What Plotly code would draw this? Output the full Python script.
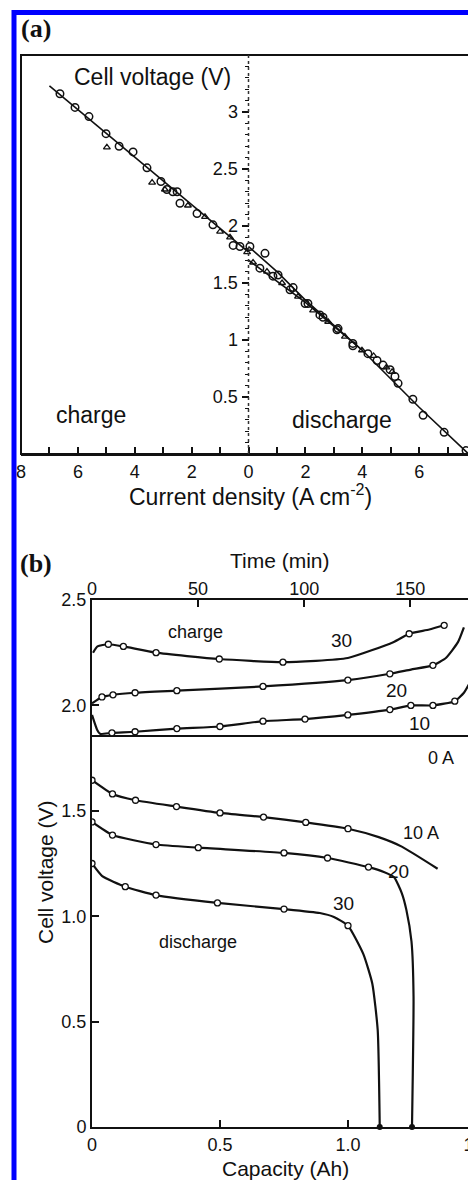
import plotly.graph_objects as go

# ---------------- Panel (a) data: cell voltage vs current density ----------------
a_charge_line_x = [-7.0, -3.5, 0.0]
a_charge_line_v = [3.23, 2.50, 1.77]
a_dis_upper_x = [0.0, 1.0, 2.0, 3.0, 4.0]
a_dis_upper_v = [1.82, 1.60, 1.35, 1.13, 0.91]
a_dis_lower_x = [0.0, 2.0, 4.0, 6.0, 7.7, 8.0]
a_dis_lower_v = [1.70, 1.33, 0.91, 0.41, 0.01, -0.06]

a_circ_x = [-6.63, -6.10, -5.61, -5.01, -4.55, -4.06, -3.57, -3.08, -2.87, -2.66, -2.51, -2.41,
            -1.81, -1.25, -0.54, -0.30, 0.05, 0.58, 1.04, 1.57, 2.09, 2.62, 3.15, 3.67,
            0.40, 0.86, 1.46, 1.99, 2.51, 3.11, 3.67, 4.20, 4.52, 4.73, 4.98, 5.15, 5.26,
            5.78, 6.14, 6.88, 7.65]
a_circ_v = [3.16, 3.04, 2.96, 2.81, 2.70, 2.65, 2.51, 2.39, 2.32, 2.30, 2.30, 2.20,
            2.11, 2.01, 1.83, 1.82, 1.82, 1.76, 1.57, 1.46, 1.32, 1.20, 1.10, 0.95,
            1.63, 1.56, 1.44, 1.32, 1.22, 1.09, 0.97, 0.88, 0.82, 0.78, 0.74, 0.68, 0.62,
            0.48, 0.34, 0.19, 0.03]
a_tri_x = [-4.98, -3.39, -2.94, -2.13, -1.53, -1.0, -0.65, -0.05, 0.16, 0.65, 1.18, 1.74,
           2.27, 2.8, 3.39, 3.99, 4.4, 4.85, 5.05]
a_tri_v = [2.69, 2.38, 2.32, 2.18, 2.08, 1.95, 1.90, 1.77, 1.68, 1.60, 1.50, 1.38,
           1.26, 1.16, 1.03, 0.91, 0.86, 0.76, 0.72]

a_xtick_vals = [-8, -6, -4, -2, 0, 2, 4, 6, 8]
a_xtick_text = ["8", "6", "4", "2", "0", "2", "4", "6", "8"]
a_ytick_vals = [0.5, 1.0, 1.5, 2.0, 2.5, 3.0]
a_ytick_text = ["0.5", "1", "1.5", "2", "2.5", "3"]

# ---------------- Panel (b) data: charge (vs time) and discharge (vs capacity) ----------------
b_ch30_t = [0.5, 2.6, 7.7, 14.8, 30.2, 60, 90, 120.6, 142, 149.5, 159, 166]
b_ch30_v = [2.25, 2.28, 2.29, 2.28, 2.25, 2.22, 2.205, 2.225, 2.30, 2.34, 2.36, 2.38]
b_ch30_mark = [0, 0, 1, 1, 1, 1, 1, 0, 0, 1, 0, 1]

b_ch20_t = [0.0, 4.7, 9.9, 20.3, 40, 80.6, 120.6, 140.4, 150.3, 160.7, 166.8, 172.5, 175.3]
b_ch20_v = [2.01, 2.04, 2.05, 2.06, 2.07, 2.09, 2.12, 2.15, 2.17, 2.19, 2.225, 2.30, 2.37]
b_ch20_mark = [0, 1, 1, 1, 1, 1, 1, 1, 0, 1, 0, 0, 0]

b_ch10_t = [0.0, 2.4, 3.8, 9.4, 20.3, 40, 60.3, 80.6, 100.4, 120.6, 140.4, 150.3, 160.7,
            171, 175.3, 180, 183]
b_ch10_v = [1.955, 1.885, 1.865, 1.87, 1.875, 1.89, 1.90, 1.925, 1.935, 1.955, 1.98, 2.0, 2.0,
            2.02, 2.06, 2.145, 2.24]
b_ch10_mark = [0, 0, 0, 1, 1, 1, 1, 1, 1, 1, 1, 1, 1, 1, 0, 0, 0]

b_zero_c = [0.0, 1.5]
b_zero_v = [1.855, 1.855]

b_dis10_c = [0.0, 0.08, 0.17, 0.33, 0.50, 0.67, 0.835, 1.0, 1.12, 1.21, 1.35]
b_dis10_v = [1.645, 1.58, 1.55, 1.52, 1.49, 1.47, 1.445, 1.415, 1.375, 1.33, 1.225]
b_dis10_mark = [1, 1, 1, 1, 1, 1, 1, 1, 0, 0, 0]

b_dis20_c = [0.0, 0.08, 0.25, 0.415, 0.75, 0.92, 1.08, 1.14, 1.18, 1.21, 1.228, 1.248, 1.256, 1.25]
b_dis20_v = [1.447, 1.385, 1.34, 1.325, 1.30, 1.276, 1.233, 1.21, 1.185, 1.11, 1.03, 0.88, 0.62, 0.0]
b_dis20_mark = [1, 1, 1, 1, 1, 1, 1, 0, 0, 0, 0, 0, 0, 0]

b_dis30_c = [0.0, 0.04, 0.13, 0.25, 0.49, 0.75, 0.89, 0.945, 1.0, 1.06, 1.095, 1.116, 1.124]
b_dis30_v = [1.25, 1.19, 1.14, 1.10, 1.063, 1.034, 1.015, 0.996, 0.955, 0.82, 0.68, 0.46, 0.0]
b_dis30_mark = [1, 0, 1, 1, 1, 1, 0, 0, 1, 0, 0, 0, 0]

b_end_c = [1.124, 1.25]
b_end_v = [0.0, 0.0]

b_xtick_vals = [0, 0.5, 1.0, 1.5]
b_xtick_text = ["0", "0.5", "1.0", "1.5"]
b_ttick_vals = [0, 50, 100, 150]
b_ttick_text = ["0", "50", "100", "150"]
b_ytick_vals = [0, 0.5, 1.0, 1.5, 2.0, 2.5]
b_ytick_text = ["0", "0.5", "1.0", "1.5", "2.0", "2.5"]

# ---------------- figure ----------------
# The page body has an 8px margin, so the figure fills the window from (8, 8).
OFF = 8
W, H = 476 - OFF, 1180 - OFF
INK = "#111111"
SANS = "Liberation Sans, Arial, Helvetica, sans-serif"
SERIF = "Liberation Serif, Times New Roman, serif"


def fx(p):
    return (p - OFF) / W


def fy(p):
    return 1 - (p - OFF) / H


fig = go.Figure()

# panel (a) lines
for xs, vs in [(a_charge_line_x, a_charge_line_v), (a_dis_upper_x, a_dis_upper_v),
               (a_dis_lower_x, a_dis_lower_v)]:
    fig.add_trace(go.Scatter(x=xs, y=vs, mode="lines", line=dict(color=INK, width=1.6),
                             xaxis="x", yaxis="y", hoverinfo="skip"))
fig.add_trace(go.Scatter(x=a_tri_x, y=a_tri_v, mode="markers", xaxis="x", yaxis="y",
                         marker=dict(symbol="triangle-up-open", size=6, color=INK, line=dict(width=1.3))))
fig.add_trace(go.Scatter(x=a_circ_x, y=a_circ_v, mode="markers", xaxis="x", yaxis="y",
                         marker=dict(symbol="circle-open", size=7.5, color=INK, line=dict(width=1.5))))


def add_curve(xs, vs, marks, xaxis):
    fig.add_trace(go.Scatter(x=xs, y=vs, mode="lines", xaxis=xaxis, yaxis="y2",
                             line=dict(color=INK, width=2.2, shape="spline", smoothing=0.5),
                             hoverinfo="skip"))
    mx = [x for x, m in zip(xs, marks) if m]
    mv = [v for v, m in zip(vs, marks) if m]
    fig.add_trace(go.Scatter(x=mx, y=mv, mode="markers", xaxis=xaxis, yaxis="y2",
                             marker=dict(symbol="circle", size=6, color="white",
                                         line=dict(color=INK, width=1.3))))


add_curve(b_ch30_t, b_ch30_v, b_ch30_mark, "x3")
add_curve(b_ch20_t, b_ch20_v, b_ch20_mark, "x3")
add_curve(b_ch10_t, b_ch10_v, b_ch10_mark, "x3")
fig.add_trace(go.Scatter(x=b_zero_c, y=b_zero_v, mode="lines", xaxis="x2", yaxis="y2",
                         line=dict(color=INK, width=2)))
add_curve(b_dis10_c, b_dis10_v, b_dis10_mark, "x2")
add_curve(b_dis20_c, b_dis20_v, b_dis20_mark, "x2")
add_curve(b_dis30_c, b_dis30_v, b_dis30_mark, "x2")
fig.add_trace(go.Scatter(x=b_end_c, y=b_end_v, mode="markers", xaxis="x2", yaxis="y2",
                         cliponaxis=False, marker=dict(size=6, color=INK)))

tick_common = dict(tickcolor=INK, tickwidth=1.5, showgrid=False, zeroline=False,
                   ticklabeloverflow="allow", automargin=False)

fig.update_layout(
    template="none",
    width=W, height=H, margin=dict(l=0, r=0, t=0, b=0, pad=0, autoexpand=False),
    paper_bgcolor="white", plot_bgcolor="rgba(0,0,0,0)", showlegend=False,
    font=dict(family=SANS, color=INK),
    xaxis=dict(domain=[fx(21), 1], range=[-8, 8], anchor="y", tickmode="array",
               tickvals=a_xtick_vals, ticktext=a_xtick_text, ticks="inside", ticklen=7,
               minor=dict(tickmode="linear", tick0=0, dtick=1, ticks="inside", ticklen=7,
                          tickcolor=INK, tickwidth=1.5),
               showline=True, linewidth=2, linecolor=INK, tickfont=dict(size=18),
               **tick_common),
    yaxis=dict(domain=[fy(454), fy(55)], range=[0, 3.5], anchor="free", position=fx(248.5),
               tickmode="array", tickvals=a_ytick_vals, ticktext=a_ytick_text,
               ticks="outside", ticklen=7, showline=False, tickfont=dict(size=18),
               minor=dict(tickmode="linear", tick0=0, dtick=0.1, ticks="outside", ticklen=4,
                          tickcolor=INK, tickwidth=1),
               **tick_common),
    xaxis2=dict(domain=[fx(92), 1], range=[0, 1.5], anchor="y2", tickmode="array",
                tickvals=b_xtick_vals, ticktext=b_xtick_text, ticks="inside", ticklen=7,
                showline=True, linewidth=2, linecolor=INK, mirror=True,
                tickfont=dict(size=18), **tick_common),
    xaxis3=dict(overlaying="x2", side="top", range=[0, 181], anchor="y2", tickmode="array",
                tickvals=b_ttick_vals, ticktext=b_ttick_text, ticks="inside", ticklen=7,
                showline=False, tickfont=dict(size=18), **tick_common),
    yaxis2=dict(domain=[fy(1127), fy(600)], range=[0, 2.5], anchor="x2", tickmode="array",
                tickvals=b_ytick_vals, ticktext=b_ytick_text, ticks="inside", ticklen=7,
                showline=True, linewidth=2, linecolor=INK, mirror=True,
                tickfont=dict(size=18), **tick_common),
)

shapes = [
    dict(type="rect", xref="x domain", yref="y domain", x0=0, x1=1, y0=0, y1=1,
         line=dict(color=INK, width=2)),
    dict(type="line", xref="x", yref="y domain", x0=0, x1=0, y0=0, y1=1,
         line=dict(color="#333333", width=1.5, dash="dot")),
    dict(type="line", xref="paper", yref="paper", x0=fx(14), x1=fx(14), y0=-0.01, y1=fy(10),
         line=dict(color="#0000ff", width=5)),
    dict(type="line", xref="paper", yref="paper", x0=fx(12), x1=1.01, y0=fy(12.5), y1=fy(12.5),
         line=dict(color="#0000ff", width=5)),
]
fig.update_layout(shapes=shapes)


def ann(text, x, y, size, family=SANS, angle=0):
    return dict(text=text, x=fx(x), y=fy(y), xref="paper", yref="paper", showarrow=False,
                xanchor="center", yanchor="middle", textangle=angle,
                font=dict(size=size, family=family, color=INK))


annotations = [
    ann("<b>(a)</b>", 36, 29, 26, SERIF),
    ann("<b>(b)</b>", 36, 563, 26, SERIF),
    ann("Cell voltage (V)", 152, 77, 23),
    ann("charge", 91, 415, 23),
    ann("discharge", 342, 420, 23),
    ann("Current density (A cm<sup>-2</sup>)", 250, 495, 23),
    ann("Time (min)", 280, 560, 21),
    ann("Capacity (Ah)", 285, 1168, 21),
    ann("Cell voltage (V)", 45, 872, 21, angle=-90),
    ann("charge", 195, 632, 18),
    ann("30", 341, 640, 19),
    ann("20", 396, 690, 19),
    ann("10", 419, 723, 19),
    ann("0 A", 441, 758, 18),
    ann("10 A", 421, 833, 18),
    ann("20", 398, 871, 19),
    ann("30", 343, 903, 19),
    ann("discharge", 198, 942, 18),
]
fig.update_layout(annotations=annotations)

fig.write_html("out.html")
